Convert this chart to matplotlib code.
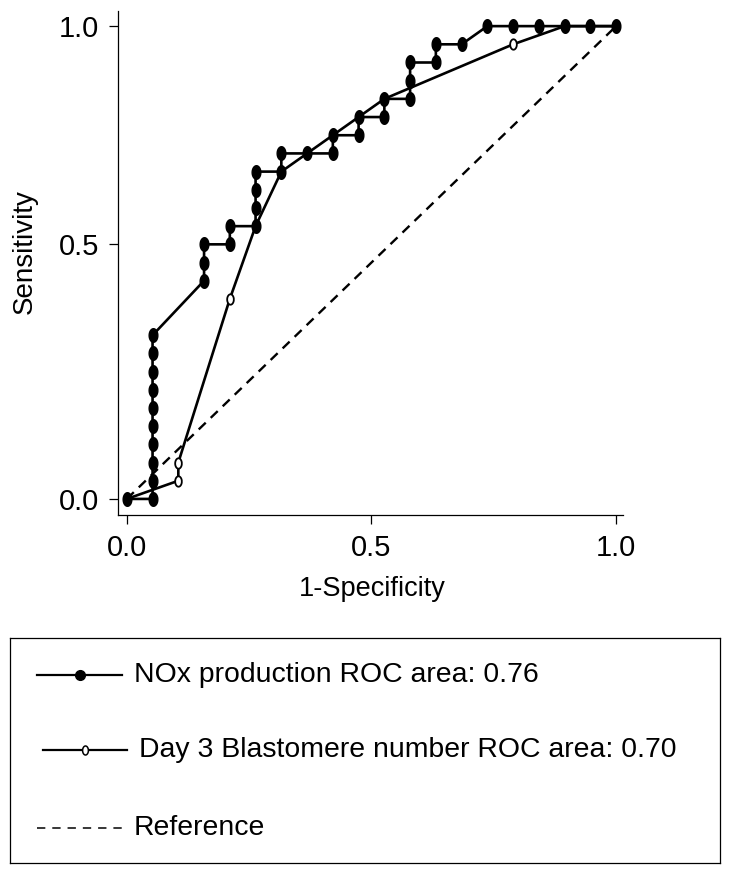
import numpy as np
import matplotlib
matplotlib.use('Agg')
import matplotlib.pyplot as plt
from matplotlib.lines import Line2D

plt.rcParams['font.family'] = ['Liberation Sans', 'DejaVu Sans']
plt.rcParams['lines.scale_dashes'] = False

# counts: 19 negatives, 26 positives
n_neg = 19
n_pos = 26

nox_fp = [0, 1, 1, 1, 1, 1, 1, 1, 1, 1, 1, 3, 3, 3, 4, 4, 5, 5, 5, 5, 6, 6, 7,
          8, 8, 9, 9, 10, 10, 11, 11, 11, 12, 12, 13, 14, 15, 16, 17, 18, 19]
nox_tp = [0, 0, 1, 2, 3, 4, 5, 6, 7, 8, 9, 12, 13, 14, 14, 15, 15, 16, 17, 18, 18, 19, 19,
          19, 20, 20, 21, 21, 22, 22, 23, 24, 24, 25, 25, 26, 26, 26, 26, 26, 26]

blast_fp = [0, 2, 2, 4, 5, 6, 10, 15, 17, 19]
blast_tp = [0, 1, 2, 11, 15, 18, 22, 25, 26, 26]

ref_x = [0.0, 1.0]
ref_y = [0.0, 1.0]

xtick_pos = [0.0, 0.5, 1.0]
xtick_labels = ['0.0', '0.5', '1.0']
# the middle y tick sits a bit above 0.5 in the original picture
ytick_pos = [0.0, 0.54, 1.0]
ytick_labels = ['0.0', '0.5', '1.0']

labels = ['NOx production ROC area: 0.76',
          'Day 3 Blastomere number ROC area: 0.70',
          'Reference']

# tall ellipse marker (the original markers look stretched vertically)
t = np.linspace(0, 2 * np.pi, 40)
ellipse = np.column_stack([0.64 * np.cos(t), np.sin(t)])

nox_x = np.array(nox_fp) / n_neg
nox_y = np.array(nox_tp) / n_pos
blast_x = np.array(blast_fp) / n_neg
blast_y = np.array(blast_tp) / n_pos

fig = plt.figure(figsize=(7.29, 8.75), dpi=100)
ax = fig.add_axes([118 / 729, 1 - 515 / 875, 505 / 729, 504 / 875])

ax.plot(ref_x, ref_y, color='black', lw=1.7, dashes=(7, 5))
ax.plot(blast_x, blast_y, color='black', lw=1.9, marker=ellipse, ms=7.5,
        mfc='white', mec='black', mew=1.3)
ax.plot(nox_x, nox_y, color='black', lw=1.9, marker=ellipse, ms=9.8,
        mfc='black', mec='black')

ax.set_xlim(-0.018, 1.014)
ax.set_ylim(-0.034, 1.032)
ax.spines['top'].set_visible(False)
ax.spines['right'].set_visible(False)
for s in ['left', 'bottom']:
    ax.spines[s].set_linewidth(0.9)
ax.set_xticks(xtick_pos)
ax.set_xticklabels(xtick_labels)
ax.set_yticks(ytick_pos)
ax.set_yticklabels(ytick_labels)
ax.tick_params(axis='both', length=6.5, width=0.9, pad=7, labelsize=21)

ax.set_xlabel('1-Specificity', fontsize=19.5)
ax.set_ylabel('Sensitivity', fontsize=20)
ax.xaxis.set_label_coords(0.503, -0.147)
ax.yaxis.set_label_coords(-0.184, 0.522)
ax.xaxis.label.set_va('center')
ax.yaxis.label.set_va('center')

# legend drawn by hand to keep the uneven spacing of the original
lax = fig.add_axes([10 / 729, 1 - 863 / 875, 710 / 729, 225 / 875])
lax.set_xlim(0, 710)
lax.set_ylim(225, 0)
lax.set_xticks([])
lax.set_yticks([])
for s in lax.spines.values():
    s.set_linewidth(0.9)

lax.add_line(Line2D([27, 112], [37, 37], color='black', lw=1.6))
lax.plot([70], [37], marker='o', ms=7, color='black')
lax.text(124, 37, labels[0], fontsize=20.4, va='center')

lax.add_line(Line2D([33, 117], [112, 112], color='black', lw=1.6))
lax.plot([75], [112], marker=ellipse, ms=6.5, mfc='white', mec='black', mew=1.1)
lax.text(129, 112, labels[1], fontsize=20.4, va='center')

lax.add_line(Line2D([27, 112], [190, 190], color='black', lw=1.1, dashes=(6, 5)))
lax.text(124, 190, labels[2], fontsize=20.4, va='center')

fig.savefig('out.png', dpi=100)
